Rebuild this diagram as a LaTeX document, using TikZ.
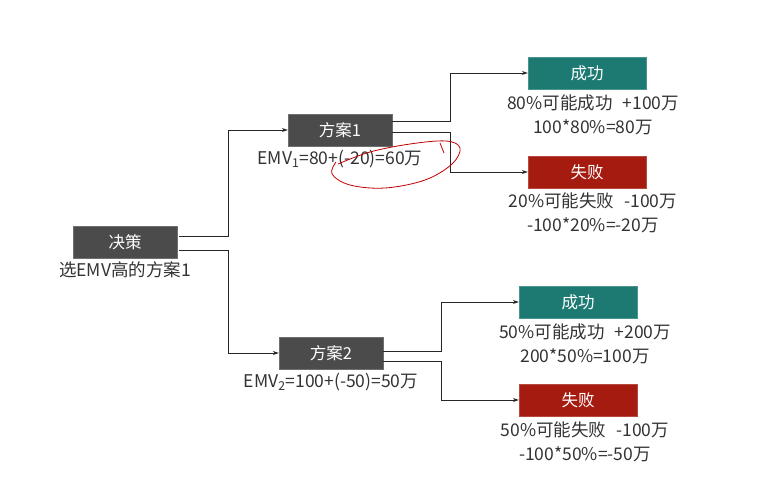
\documentclass[tikz,border=0pt]{standalone}
\usepackage{fontspec}
\setmainfont{Noto Sans CJK SC}
\usetikzlibrary{arrows.meta}
\usepackage{xcolor}
\definecolor{boxgray}{HTML}{4B4B4B}
\definecolor{boxteal}{HTML}{1C7A72}
\definecolor{boxred}{HTML}{A61B0F}
\definecolor{txt}{HTML}{333333}

\tikzset{
    box/.style={draw=#1!80!white, fill=#1, text=white, minimum width=104pt, minimum height=32pt, inner sep=0pt, font=\fontsize{16.5}{18}\selectfont},
    outbox/.style={box=#1, minimum width=118pt},
    note/.style={text=txt, align=center, inner sep=0pt, font=\fontsize{17.5}{24}\selectfont},
    arr/.style={draw=black!85, line width=0.9pt, -{Stealth[length=6pt,width=4pt]}}
}

\begin{document}
\begin{tikzpicture}[x=1pt,y=-1pt]
        \useasboundingbox (0,0) rectangle (757,480);

        \node[box=boxgray] (jc) at (125,242) {决策};
        \node[box=boxgray] (fa1) at (340,130) {方案1};
        \node[box=boxgray] (fa2) at (331,353) {方案2};

        \node[outbox=boxteal] (cg1) at (587,73) {成功};
        \node[outbox=boxred]  (sb1) at (587,172) {失败};
        \node[outbox=boxteal] (cg2) at (578,302) {成功};
        \node[outbox=boxred]  (sb2) at (578,400) {失败};

        \node[note, anchor=north] (jcl) at (125,261) {选EMV高的方案1};
        \node[note, anchor=north] (fa1l) at (340,150) {EMV\textsubscript{1}=80+(-20)=60万};
        \node[note, anchor=north] (fa2l) at (331,373) {EMV\textsubscript{2}=100+(-50)=50万};

        \node[note, anchor=north] (cg1l) at (593,95) {80\%可能成功\hspace{10pt}+100万\\100*80\%=80万};
        \node[note, anchor=north] (sb1l) at (593,193) {20\%可能失败\hspace{10pt}-100万\\-100*20\%=-20万};
        \node[note, anchor=north] (cg2l) at (585,324) {50\%可能成功\hspace{10pt}+200万\\200*50\%=100万};
        \node[note, anchor=north] (sb2l) at (585,422) {50\%可能失败\hspace{10pt}-100万\\-100*50\%=-50万};

        \draw[arr] ([shift={(2,-6)}]jc.east) -- ++(49,0) |- (fa1.west);
        \draw[arr] ([shift={(2,8)}]jc.east) -- ++(49,0) |- (fa2.west);

        \draw[arr] ([yshift=9pt]fa1.east) -- ++(58,0) |- (cg1.west);
        \draw[arr] ([yshift=-2pt]fa1.east) -- ++(58,0) |- (sb1.west);

        \draw[arr] ([yshift=2pt]fa2.east) -- ++(58,0) |- (cg2.west);
        \draw[arr] ([yshift=-8pt]fa2.east) -- ++(58,0) |- (sb2.west);

        % hand-drawn mark round the result
        \draw[red!75!black, line width=0.8pt] plot[smooth, tension=0.6] coordinates
            {(338,164) (370,152) (410,144) (446,141) (460,148) (452,164) (425,180) (385,188) (350,185) (332,174) (336,162)};
        \draw[red!75!black, line width=0.8pt] (440,143) -- (444,153);
\end{tikzpicture}
\end{document}
